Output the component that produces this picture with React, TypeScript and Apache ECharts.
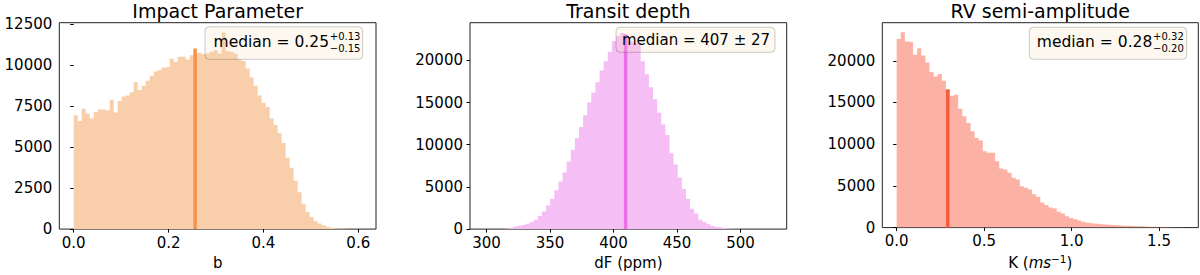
import React, { useEffect, useRef } from "react";
import * as echarts from "echarts";

const FONT = "DejaVu Sans";

// ---- data ----
const titles = ["Impact Parameter", "Transit depth", "RV semi-amplitude"];
const xNames = ["b", "dF (ppm)", "K ({i|ms}{s|−1})"];

const impactRange = [0, 0.607];
const impactCounts = [
  6940, 6580, 7340, 7040, 6740, 7140, 7280, 7300, 7220, 7880,
  7100, 7800, 8080, 8140, 8340, 8940, 8480, 8740, 9040, 9340,
  9600, 9700, 9840, 9880, 10380, 10180, 10500, 10500, 10340, 10600,
  10700, 10750, 10650, 10700, 10800, 10900, 10700, 11980, 10850, 10800,
  10700, 10340, 10240, 9780, 9240, 8740, 8140, 7700, 7440, 6740,
  6340, 5840, 5240, 4340, 3740, 2940, 2240, 1540, 1040, 740,
  500, 340, 240, 140, 80, 40, 30, 20, 10, 10, 5, 5,
];

const depthRange = [298.3, 525];
const depthCounts = [
  3, 5, 10, 20, 40, 80, 170, 300, 400, 500,
  620, 840, 1100, 1550, 2100, 2800, 3600, 4600, 5650, 6700,
  8000, 9400, 10800, 12100, 13500, 15000, 16200, 17400, 18800, 19900,
  21000, 22300, 22900, 23250, 23000, 22300, 22100, 22000, 19900, 18350,
  16800, 15400, 13800, 12400, 11150, 9000, 7650, 6100, 4750, 3600,
  2400, 1850, 1100, 850, 560, 380, 250, 170, 110, 70,
  45, 30, 20, 12, 8, 5, 4, 3, 2, 2,
];

const rvRange = [0, 1.6425];
const rvCounts = [
  22620, 23420, 22300, 22220, 20710, 21500, 20630, 19790, 18640, 18120,
  18400, 17600, 16600, 15800, 15930, 14260, 13340, 12540, 11550, 10750,
  10430, 9160, 8960, 8960, 7960, 7090, 6970, 6570, 5970, 5770,
  4970, 4780, 4580, 4000, 3700, 3000, 2700, 2400, 2300, 1900,
  1700, 1350, 1150, 1000, 850, 700, 580, 500, 450, 400,
  370, 340, 300, 270, 250, 230, 210, 190, 170, 150,
  130, 115, 100, 90, 75, 65, 55, 45, 40, 30,
];

const medianX = [0.256, 409.5, 0.292];
const medianTop = [11000, 23100, 16550];

const impactXTicks = [0, 0.2, 0.4, 0.6];
const depthXTicks = [300, 350, 400, 450, 500];
const rvXTicks = [0, 0.5, 1.0, 1.5];
const impactYTicks = [0, 2500, 5000, 7500, 10000, 12500];
const depthYTicks = [0, 5000, 10000, 15000, 20000];
const rvYTicks = [0, 5000, 10000, 15000, 20000];

const medianMain = ["median = 0.25", "median = 407 ± 27", "median = 0.28"];
const medianUp = ["+0.13", "", "+0.32"];
const medianDown = ["−0.15", "", "−0.20"];

// ---- styling / layout ----
const barColors = ["#f8cfaa", "#f5bef5", "#fcb1a5"];
const lineColors = ["#f3934c", "#ea6fe8", "#f65d3e"];
const grids = [
  { left: 59.3, top: 22.7, width: 316.7, height: 209.6 },
  { left: 470, top: 22.7, width: 316.7, height: 209.6 },
  { left: 882.3, top: 22.7, width: 316, height: 205.6 },
];
const xExtents = [
  [-0.0304, 0.6374],
  [287, 536.3],
  [-0.0821, 1.7246],
];
const yMax = [12576, 24457, 24564];

// step points: left edge of each bin with its count, plus the final right edge
function stepData(range: number[], counts: number[]) {
  const n = counts.length;
  const w = (range[1] - range[0]) / n;
  const pts = counts.map((c, i) => [range[0] + i * w, c]);
  pts.push([range[1], counts[n - 1]]);
  return pts;
}

export default function App() {
  const ref = useRef<HTMLDivElement>(null);
  useEffect(() => {
    document.body.style.margin = "0";
    const chart = echarts.init(ref.current!, null, { renderer: "svg" });
    const hist = [
      stepData(impactRange, impactCounts),
      stepData(depthRange, depthCounts),
      stepData(rvRange, rvCounts),
    ];
    const xTicks = [impactXTicks, depthXTicks, rvXTicks];
    const yTicks = [impactYTicks, depthYTicks, rvYTicks];
    const xFmt = [
      (v: number) => v.toFixed(1),
      (v: number) => String(Math.round(v)),
      (v: number) => v.toFixed(1),
    ];
    const tickStyle = { color: "#000", width: 1 };
    const labelBase = { fontFamily: FONT, fontSize: 15, color: "#000" };

    const xAxis = [0, 1, 2].map((i) => ({
      type: "value",
      gridIndex: i,
      min: xExtents[i][0],
      max: xExtents[i][1],
      splitLine: { show: false },
      axisLine: { show: false },
      axisTick: { show: true, length: 3.5, inside: false, lineStyle: tickStyle, customValues: xTicks[i] },
      axisLabel: { ...labelBase, margin: 6, customValues: xTicks[i], formatter: xFmt[i] },
      name: xNames[i],
      nameLocation: "middle",
      nameGap: i === 2 ? 24 : 21,
      nameTextStyle: {
        fontFamily: FONT,
        fontSize: 15,
        color: "#000",
        rich: {
          i: { fontFamily: FONT, fontSize: 15, fontStyle: "italic", color: "#000" },
          s: { fontFamily: FONT, fontSize: 10.5, color: "#000", verticalAlign: "top", padding: [0, 0, 7, 0] },
        },
      },
    }));
    const yAxis = [0, 1, 2].map((i) => ({
      type: "value",
      gridIndex: i,
      min: 0,
      max: yMax[i],
      splitLine: { show: false },
      axisLine: { show: false },
      axisTick: { show: true, length: 3.5, inside: false, lineStyle: tickStyle, customValues: yTicks[i] },
      axisLabel: { ...labelBase, margin: 7, customValues: yTicks[i], formatter: (v: number) => String(Math.round(v)) },
    }));

    const series: any[] = [];
    [0, 1, 2].forEach((i) => {
      series.push({
        type: "line",
        xAxisIndex: i,
        yAxisIndex: i,
        data: hist[i],
        step: "end",
        showSymbol: false,
        symbol: "none",
        lineStyle: { width: 0, color: barColors[i] },
        areaStyle: { color: barColors[i], opacity: 1, origin: "start" },
        z: 2,
      });
      series.push({
        type: "line",
        xAxisIndex: i,
        yAxisIndex: i,
        data: [
          [medianX[i], 0],
          [medianX[i], medianTop[i]],
        ],
        showSymbol: false,
        symbol: "none",
        lineStyle: { color: lineColors[i], width: 3.5 },
        z: 3,
      });
    });

    const titleX = grids.map((g) => g.left + g.width / 2);
    const boxes = [
      { x: 205, y: 26.8, w: 157.7, h: 32.5, anchor: 329 },
      { x: 616, y: 27.3, w: 159, h: 25, anchor: 696 },
      { x: 1029.3, y: 27.3, w: 157.4, h: 32, anchor: 1152.3 },
    ];
    const graphics: any[] = [];
    [0, 1, 2].forEach((i) => {
      graphics.push({
        type: "text",
        x: titleX[i],
        y: 11,
        style: { text: titles[i], fontFamily: FONT, fontSize: 19, fill: "#000", textAlign: "center", textVerticalAlign: "middle" },
        z: 10,
      });
      const b = boxes[i];
      graphics.push({
        type: "rect",
        shape: { x: b.x, y: b.y, width: b.w, height: b.h, r: 4 },
        style: { fill: "rgba(245,222,179,0.2)", stroke: "rgba(0,0,0,0.2)", lineWidth: 1 },
        z: 10,
      });
      if (medianUp[i]) {
        graphics.push({
          type: "text",
          x: b.anchor,
          y: 42,
          style: { text: medianMain[i], fontFamily: FONT, fontSize: 15.5, fill: "#000", textAlign: "right", textVerticalAlign: "middle" },
          z: 11,
        });
        graphics.push({
          type: "text",
          x: b.anchor + 0.8,
          y: 36.6,
          style: { text: medianUp[i], fontFamily: FONT, fontSize: 10, fill: "#000", textAlign: "left", textVerticalAlign: "middle" },
          z: 11,
        });
        graphics.push({
          type: "text",
          x: b.anchor + 0.8,
          y: 48.4,
          style: { text: medianDown[i], fontFamily: FONT, fontSize: 10, fill: "#000", textAlign: "left", textVerticalAlign: "middle" },
          z: 11,
        });
      } else {
        graphics.push({
          type: "text",
          x: b.anchor,
          y: 39.5,
          style: { text: medianMain[i], fontFamily: FONT, fontSize: 15, fill: "#000", textAlign: "center", textVerticalAlign: "middle" },
          z: 11,
        });
      }
    });

    chart.setOption({
      animation: false,
      backgroundColor: "#fff",
      grid: grids.map((g) => ({ ...g, show: true, borderColor: "#222", borderWidth: 1, backgroundColor: "transparent", containLabel: false })),
      xAxis,
      yAxis,
      series,
      graphic: graphics,
    });
    return () => chart.dispose();
  }, []);
  return <div ref={ref} style={{ width: 1200, height: 275 }} />;
}
